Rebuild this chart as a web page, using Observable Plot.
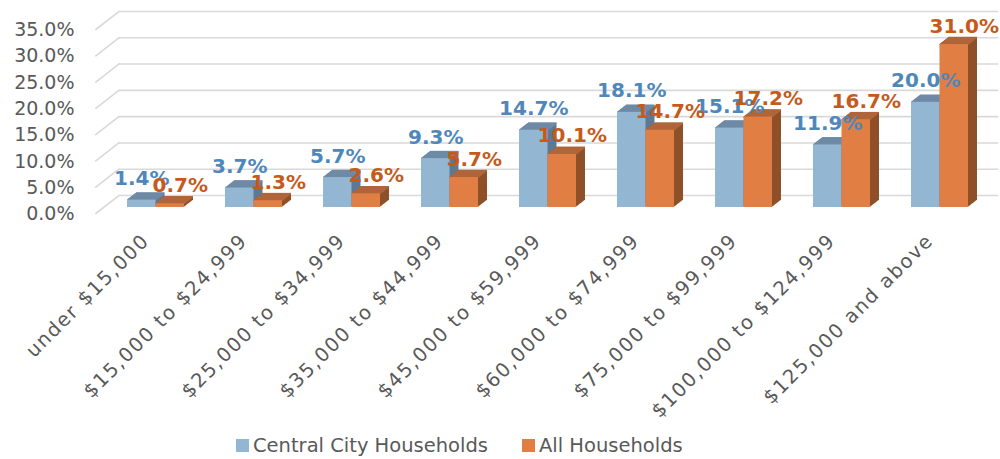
<!DOCTYPE html>
<html>
<head>
<meta charset="utf-8">
<script src="https://cdn.jsdelivr.net/npm/d3@7"></script>
<script src="https://cdn.jsdelivr.net/npm/@observablehq/plot@0.6"></script>
<style>
  html, body { margin: 0; padding: 0; background: #fff; }
  #wrap { position: relative; width: 1000px; height: 459px; font-family: "DejaVu Sans", sans-serif; }
  #wrap svg g[aria-label="x-axis tick label"] text { letter-spacing: 1.6px; }
  #legend { position: absolute; left: 236px; top: 434px; display: flex; align-items: center; font-size: 19.5px; color: #595959; }
  #legend .item { display: flex; align-items: center; margin-right: 34px; }
  #legend .sw { width: 13px; height: 13px; margin-right: 4px; }
</style>
</head>
<body>
<div id="wrap"></div>
<script>
// ---- data ----
const categories = [
  "under $15,000", "$15,000 to $24,999", "$25,000 to $34,999", "$35,000 to $44,999",
  "$45,000 to $59,999", "$60,000 to $74,999", "$75,000 to $99,999", "$100,000 to $124,999",
  "$125,000 and above"
];
const centralCity = [1.4, 3.7, 5.7, 9.3, 14.7, 18.1, 15.1, 11.9, 20.0];
const allHouseholds = [0.7, 1.3, 2.6, 5.7, 10.1, 14.7, 17.2, 16.7, 31.0];
const yTicks = [0, 5, 10, 15, 20, 25, 30, 35];
const seriesNames = ["Central City Households", "All Households"];

// ---- styles ----
const blueC = {front: "#93B6D3", top: "#6F8AA6", side: "#5F7894", label: "#4F87BA"};
const orangeC = {front: "#E07E44", top: "#B0663A", side: "#8E5029", label: "#C55A1A"};
const gridColor = "#D9D9D9";
const textColor = "#595959";

const blueRows = centralCity.map((v, i) => ({cat: categories[i], v}));
const orangeRows = allHouseholds.map((v, i) => ({cat: categories[i], v}));

const half = 28.5;
function bar3d(rows, inset, c) {
  const K = 12, DX = 9, DY = 7;
  const m = [];
  for (let k = K; k >= 1; k--) {
    m.push(Plot.barY(rows, {x: "cat", y: "v", ...inset, fill: c.side, dx: k * DX / K, dy: -k * DY / K}));
  }
  for (let k = K; k >= 0; k--) {
    m.push(Plot.tickY(rows, {x: "cat", y: "v", ...inset, stroke: c.top, strokeWidth: 1.6, dx: k * DX / K, dy: -k * DY / K}));
  }
  m.push(Plot.barY(rows, {x: "cat", y: "v", ...inset, fill: c.front}));
  return m;
}

const lineShape = {draw(context, l) { context.moveTo(0, 0); context.lineTo(0, -l); }};

const chart = Plot.plot({
  width: 1000,
  height: 418,
  marginLeft: 103,
  marginRight: 17,
  marginTop: 23,
  marginBottom: 211,
  style: {fontFamily: "DejaVu Sans, sans-serif", background: "white", overflow: "visible"},
  x: {type: "band", domain: categories, paddingInner: 0.422, paddingOuter: 0.1735, align: 0.6, label: null},
  y: {domain: [0, 35], label: null},
  marks: [
    // back wall gridlines
    Plot.ruleY(yTicks, {y: d => d, dx: 15.3, dy: -12, stroke: gridColor, strokeWidth: 1.6}),
    // side wall (diagonal) gridlines
    Plot.vector(yTicks, {y: d => d, frameAnchor: "left", length: 29.2, rotate: 52, anchor: "start",
      shape: lineShape, dx: -7.7, dy: 6, stroke: gridColor, strokeWidth: 1.6}),
    ...bar3d(blueRows, {insetRight: half}, blueC),
    ...bar3d(orangeRows, {insetLeft: half}, orangeC),
    Plot.axisY(yTicks, {tickFormat: d => d.toFixed(1) + "%", tickSize: 0, tickPadding: 29, dy: 6.5,
      fontSize: 19, fill: textColor, label: null}),
    Plot.axisX({tickRotate: -45, tickSize: 0, tickPadding: 30, dx: -10, fontSize: 19.5, fill: textColor, label: null}),
    Plot.text(blueRows, {x: "cat", y: "v", text: d => d.v.toFixed(1) + "%", dx: -half / 2, dy: -15,
      lineAnchor: "bottom", fill: blueC.label, fontWeight: "bold", fontSize: 20}),
    Plot.text(orangeRows, {x: "cat", y: "v", text: d => d.v.toFixed(1) + "%", dx: half / 2 + 10, dy: -12,
      lineAnchor: "bottom", fill: orangeC.label, fontWeight: "bold", fontSize: 20})
  ]
});

const wrap = document.getElementById("wrap");
wrap.appendChild(chart);

const legend = document.createElement("div");
legend.id = "legend";
[blueC, orangeC].forEach((c, i) => {
  const item = document.createElement("div");
  item.className = "item";
  const sw = document.createElement("div");
  sw.className = "sw";
  sw.style.background = c.front;
  const label = document.createElement("span");
  label.textContent = seriesNames[i];
  item.appendChild(sw);
  item.appendChild(label);
  legend.appendChild(item);
});
wrap.appendChild(legend);
</script>
</body>
</html>
